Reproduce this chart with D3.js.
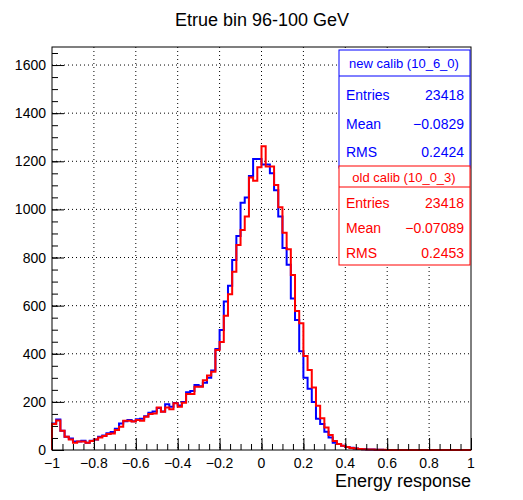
<!DOCTYPE html>
<html><head><meta charset="utf-8">
<script src="https://cdn.jsdelivr.net/npm/d3@7"></script>
<style>body{margin:0;background:#fff}text{font-family:"Liberation Sans",Arial,sans-serif}</style>
</head><body>
<svg id="c" width="523" height="500"></svg>
<script>
// 100 bins from -1 to 1
var binLo = -1, binHi = 1;
var newCalib = [110,127,80,55,48,35,35,38,30,38,44,55,60,70,75,88,110,120,125,120,128,130,140,155,160,175,160,190,180,195,185,200,240,245,270,265,280,300,330,420,499,617,683,790,889,1028,1049,1139,1210,1210,1187,1187,1150,1080,970,840,770,630,540,410,300,255,200,130,108,76,52,30,25,18,12,9,6,4,3,2,2,1,1,0,0,0,0,0,0,0,0,0,0,0,0,0,0,0,0,0,0,0,0,0];
var oldCalib = [108,123,80,55,44,30,35,35,30,37,44,52,58,66,69,83,97,122,122,118,125,122,138,150,152,177,159,177,169,194,180,196,233,233,263,263,290,310,325,416,449,558,647,741,852,914,970,1133,1119,1175,1263,1178,1178,1101,1009,903,834,727,578,527,391,332,260,184,132,93,62,37,25,18,12,8,6,4,3,2,2,1,1,1,0,0,0,0,0,0,0,0,0,0,0,0,0,0,0,0,0,0,0,0];
var xTicks = [-1,-0.8,-0.6,-0.4,-0.2,0,0.2,0.4,0.6,0.8,1];
var yTicks = [0,200,400,600,800,1000,1200,1400,1600];
var newStats = [["Entries","23418"],["Mean","\u22120.0829"],["RMS","0.2424"]];
var oldStats = [["Entries","23418"],["Mean","\u22120.07089"],["RMS","0.2453"]];

var svg = d3.select("#c");
var L = 52, R = 471, T = 47, B = 450;
var x = d3.scaleLinear().domain([binLo, binHi]).range([L, R]);
var y = d3.scaleLinear().domain([0, 1675]).range([B, T]);

svg.append("text").attr("x", 262).attr("y", 26).attr("text-anchor", "middle")
  .attr("font-size", 18).text("Etrue bin 96-100 GeV");

// grid
svg.append("g").selectAll("line").data(xTicks.slice(1, -1)).join("line")
  .attr("x1", d => x(d)).attr("x2", d => x(d)).attr("y1", T).attr("y2", B)
  .attr("stroke", "#000").attr("stroke-dasharray", "1,3");
svg.append("g").selectAll("line").data(yTicks.slice(1)).join("line")
  .attr("x1", L).attr("x2", R).attr("y1", d => y(d)).attr("y2", d => y(d))
  .attr("stroke", "#000").attr("stroke-dasharray", "1,3");

// histograms
var w = (binHi - binLo) / newCalib.length;
function step(vals) {
  var p = d3.path();
  p.moveTo(x(binLo), y(0));
  vals.forEach(function(v, i) {
    p.lineTo(x(binLo + i * w), y(v));
    p.lineTo(x(binLo + (i + 1) * w), y(v));
  });
  p.lineTo(x(binHi), y(0));
  return p.toString();
}
svg.append("path").attr("d", step(newCalib)).attr("fill", "none").attr("stroke", "#00f").attr("stroke-width", 2);
svg.append("path").attr("d", step(oldCalib)).attr("fill", "none").attr("stroke", "#f00").attr("stroke-width", 2);

// frame
svg.append("rect").attr("x", L).attr("y", T).attr("width", R - L).attr("height", B - T)
  .attr("fill", "none").attr("stroke", "#000");

// axes (ROOT-style ticks inside)
svg.append("g").attr("transform", "translate(0," + B + ")")
  .call(d3.axisTop(x).tickValues(xTicks).tickSize(12).tickFormat("")).call(g => g.select(".domain").remove());
svg.append("g").attr("transform", "translate(0," + B + ")")
  .call(d3.axisTop(x).tickValues(d3.range(-1, 1.0001, 0.05)).tickSize(6).tickFormat("")).call(g => g.select(".domain").remove());
svg.append("g").selectAll("text").data(xTicks).join("text")
  .attr("x", d => x(d)).attr("y", B + 18).attr("text-anchor", "middle").attr("font-size", 14)
  .text(d => d < 0 ? "\u2212" + Math.abs(d) : d);

svg.append("g").attr("transform", "translate(" + L + ",0)")
  .call(d3.axisRight(y).tickValues(yTicks).tickSize(12).tickFormat("")).call(g => g.select(".domain").remove());
svg.append("g").attr("transform", "translate(" + L + ",0)")
  .call(d3.axisRight(y).tickValues(d3.range(0, 1651, 50)).tickSize(6).tickFormat("")).call(g => g.select(".domain").remove());
svg.append("g").selectAll("text").data(yTicks).join("text")
  .attr("x", L - 6).attr("y", d => y(d) + 5).attr("text-anchor", "end").attr("font-size", 14).text(d => d);

svg.append("text").attr("x", R).attr("y", 487).attr("text-anchor", "end").attr("font-size", 18).text("Energy response");

// stats boxes
function statBox(y0, h, hh, title, rows, first, gap, col) {
  var g = svg.append("g");
  g.append("rect").attr("x", 339).attr("y", y0).attr("width", 131).attr("height", h)
    .attr("fill", "#fff").attr("stroke", col);
  g.append("line").attr("x1", 339).attr("x2", 470).attr("y1", y0 + hh).attr("y2", y0 + hh).attr("stroke", col);
  g.append("text").attr("x", 404).attr("y", y0 + hh / 2 + 5).attr("text-anchor", "middle")
    .attr("font-size", 13).attr("fill", col).text(title);
  rows.forEach(function(r, i) {
    var yy = y0 + first + i * gap;
    g.append("text").attr("x", 346).attr("y", yy).attr("font-size", 14).attr("fill", col).text(r[0]);
    g.append("text").attr("x", 464).attr("y", yy).attr("text-anchor", "end").attr("font-size", 14).attr("fill", col).text(r[1]);
  });
}
statBox(50, 118, 26, "new calib (10_6_0)", newStats, 50, 28.5, "#00f");
statBox(166, 99, 21, "old calib (10_0_3)", oldStats, 42, 25, "#f00");
</script>
</body></html>
